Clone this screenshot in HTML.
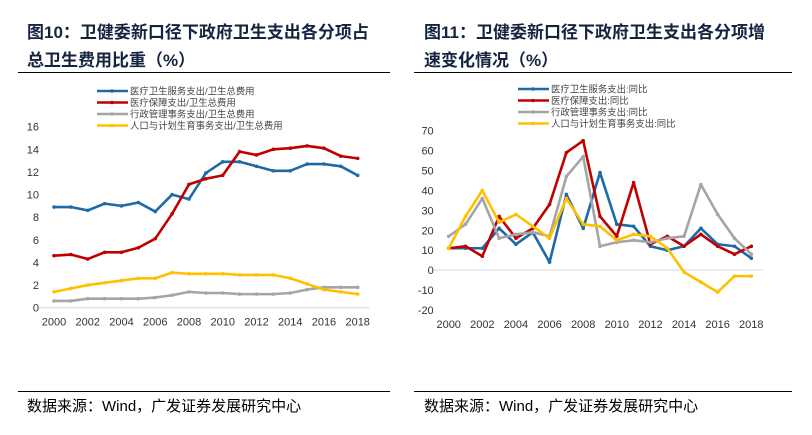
<!DOCTYPE html>
<html><head><meta charset="utf-8"><style>
body{margin:0;background:#fff;width:812px;height:430px;overflow:hidden;font-family:"Liberation Sans","Noto Sans CJK SC",sans-serif}
svg text{font-family:"Liberation Sans","Noto Sans CJK SC",sans-serif}
</style></head><body>
<svg id="s" width="812" height="430">
<g font-size="17" font-weight="bold" fill="#14243f">
<text x="27" y="38">图10：卫健委新口径下政府卫生支出各分项占</text>
<text x="27" y="66">总卫生费用比重（%）</text></g>
<g font-size="17" font-weight="bold" fill="#14243f">
<text x="424" y="38">图11：卫健委新口径下政府卫生支出各分项增</text>
<text x="424" y="66">速变化情况（%）</text></g>
<line x1="18" y1="72.5" x2="390" y2="72.5" stroke="#000"/>
<line x1="414" y1="72.5" x2="792" y2="72.5" stroke="#000"/>
<line x1="18" y1="391.5" x2="390" y2="391.5" stroke="#000"/>
<line x1="414" y1="391.5" x2="792" y2="391.5" stroke="#000"/>
<text x="27" y="411" font-size="15" fill="#000">数据来源：Wind，广发证券发展研究中心</text>
<text x="424" y="411" font-size="15" fill="#000">数据来源：Wind，广发证券发展研究中心</text>
</svg>
<script>
const years=[2000,2001,2002,2003,2004,2005,2006,2007,2008,2009,2010,2011,2012,2013,2014,2015,2016,2017,2018];
const xTicks=[2000,2002,2004,2006,2008,2010,2012,2014,2016,2018];
const colors=["#1f6aa5","#c00000","#a5a5a5","#ffc000"];
const leftNames=["医疗卫生服务支出/卫生总费用","医疗保障支出/卫生总费用","行政管理事务支出/卫生总费用","人口与计划生育事务支出/卫生总费用"];
const leftService=[8.9,8.9,8.6,9.2,9.0,9.3,8.5,10.0,9.6,11.9,12.9,12.9,12.5,12.1,12.1,12.7,12.7,12.5,11.7];
const leftSecurity=[4.6,4.7,4.3,4.9,4.9,5.3,6.1,8.3,10.9,11.4,11.7,13.8,13.5,14.0,14.1,14.3,14.1,13.4,13.2];
const leftAdmin=[0.6,0.6,0.8,0.8,0.8,0.8,0.9,1.1,1.4,1.3,1.3,1.2,1.2,1.2,1.3,1.6,1.8,1.8,1.8];
const leftPop=[1.4,1.7,2.0,2.2,2.4,2.6,2.6,3.1,3.0,3.0,3.0,2.9,2.9,2.9,2.6,2.1,1.6,1.4,1.2];
const leftYTicks=[0,2,4,6,8,10,12,14,16];
const rightNames=["医疗卫生服务支出:同比","医疗保障支出:同比","行政管理事务支出:同比","人口与计划生育事务支出:同比"];
const rightService=[11,11,11,21,13,19,4,38,21,49,23,22,12,10,12,21,13,12,6];
const rightSecurity=[11,12,7,27,16,21,33,59,65,27,17,44,13,17,12,18,12,8,12];
const rightAdmin=[17,23,36,16,18,19,17,47,57,12,14,15,14,16,17,43,28,16,8];
const rightPop=[11,27,40,24,28,22,16,36,23,22,15,18,17,11,-1,-6,-11,-3,-3];
const rightYTicks=[-20,-10,0,10,20,30,40,50,60,70];
const NS="http://www.w3.org/2000/svg";
const svg=document.getElementById('s');
function el(t,a,p){const e=document.createElementNS(NS,t);for(const k in a)e.setAttribute(k,a[k]);(p||svg).appendChild(e);return e;}
function chart(pfx,x0,x1,yMin,yMax,py0,py1,series,names,yTicks,axisVal,legX,legY){
  const X=v=>x0+(v-2000)*(x1-x0)/18;
  const Y=v=>py0+(v-yMin)*(py1-py0)/(yMax-yMin);
  const g=el('g',{});
  
  
  const ax=el('line',{x1:x0-16,x2:x1+12,y1:Y(axisVal),y2:Y(axisVal),stroke:'#d9d9d9','stroke-width':1},g);
  
  
  yTicks.forEach(v=>{const t=el('text',{x:x0-15,y:Y(v)+4,'text-anchor':'end','font-size':11,fill:'#333'},g);t.textContent=v;
    
    });
  xTicks.forEach(v=>{const t=el('text',{x:X(v),y:Y(yMin)+18,'text-anchor':'middle','font-size':11,fill:'#333'},g);t.textContent=v;
    
    });
  series.forEach((s,i)=>{
    const pl=el('polyline',{points:s.map((v,j)=>X(years[j])+','+Y(v)).join(' '),fill:'none',stroke:colors[i],'stroke-width':2.6,'stroke-linejoin':'round'},g);
    
    
    s.forEach((v,j)=>{const c=el('circle',{cx:X(years[j]),cy:Y(v),r:1.8,fill:colors[i]},g);
      
      });
    const ly=legY+i*11.5;
    const lg=el('g',{},g);
    
    
    el('line',{x1:legX,x2:legX+31,y1:ly,y2:ly,stroke:colors[i],'stroke-width':2.6},lg);
    el('circle',{cx:legX+15,cy:ly,r:1.8,fill:colors[i]},lg);
    const t=el('text',{x:legX+33,y:ly+3.5,'font-size':9.4,fill:'#444'},lg);t.textContent=names[i];
  });
}
chart('left',54,357.7,0,16,307.7,126.7,[leftService,leftSecurity,leftAdmin,leftPop],leftNames,leftYTicks,0,97,91);
chart('right',448.7,751.3,-20,70,310,130.7,[rightService,rightSecurity,rightAdmin,rightPop],rightNames,rightYTicks,0,518,89);
</script>
</body></html>
